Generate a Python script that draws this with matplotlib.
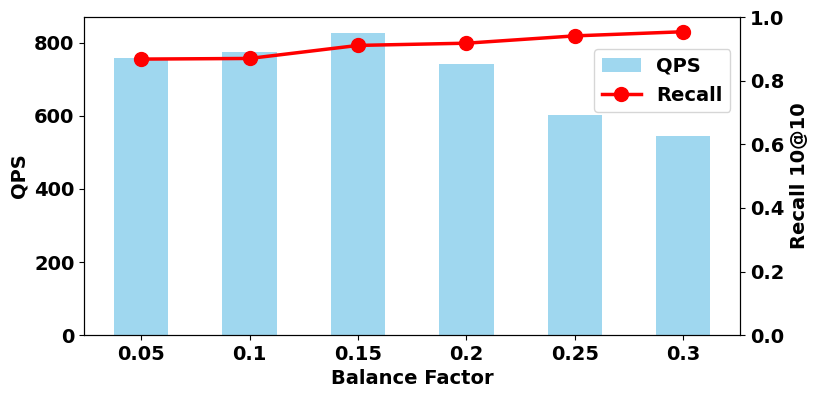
import numpy as np
import matplotlib.pyplot as plt

# balance factor sweep
factors = ['0.05', '0.1', '0.15', '0.2', '0.25', '0.3']
qps = [759, 775, 827, 742, 603, 544]
recall = [0.868, 0.870, 0.911, 0.918, 0.941, 0.954]

plt.rcParams['font.weight'] = 'bold'
plt.rcParams['font.size'] = 14

fig, ax = plt.subplots(figsize=(8.17, 3.98), dpi=100)
x = np.arange(len(factors))
ax.bar(x, qps, width=0.5, color='skyblue', alpha=0.8, label='QPS')
ax.set_ylim(0, 870)
ax.set_xticks(x)
ax.set_xticklabels(factors)
ax.set_xlabel('Balance Factor', fontweight='bold')
ax.set_ylabel('QPS', fontweight='bold')

ax2 = ax.twinx()
ax2.plot(x, recall, color='red', marker='o', linewidth=2.5, markersize=10, label='Recall')
ax2.set_ylim(0, 1.0)
ax2.set_ylabel('Recall 10@10', fontweight='bold')

h1, l1 = ax.get_legend_handles_labels()
h2, l2 = ax2.get_legend_handles_labels()
ax2.legend(h1 + h2, l1 + l2, loc='upper right', bbox_to_anchor=(1.0, 0.93))

plt.subplots_adjust(left=0.103, right=0.906, top=0.957, bottom=0.158)
plt.savefig('out.png')
